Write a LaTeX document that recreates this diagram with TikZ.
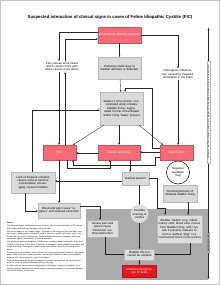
\documentclass[tikz,border=0pt]{standalone}
\usepackage{fontspec}
\setmainfont{Liberation Sans}
\usetikzlibrary{arrows.meta}
\definecolor{ficred}{HTML}{F26B77}
\definecolor{emred}{HTML}{E8161F}
\definecolor{boxgray}{HTML}{DADADA}
\definecolor{boxline}{HTML}{B8B8B8}
\definecolor{regiongray}{HTML}{ABABAB}
\definecolor{innergray}{HTML}{DEDEDE}
\begin{document}
\begin{tikzpicture}[x=1pt,y=-1pt,
  every node/.style={font=\fontsize{2.9}{3.4}\selectfont, align=center, inner sep=1pt},
  redbox/.style={fill=ficred, text=white, draw=ficred!80!black, line width=0.2},
  emergbox/.style={fill=emred, text=white, draw=emred!80!black, line width=0.2},
  graybox/.style={fill=boxgray, draw=boxline, line width=0.2},
  innerbox/.style={fill=innergray, draw=boxline, line width=0.2},
  plain/.style={},
  conn/.style={draw=black!85, line width=0.35, -{Stealth[length=2pt,width=1.7pt]}},
  dconn/.style={draw=black!85, line width=0.35, {Stealth[length=2.4pt,width=2pt]}-{Stealth[length=2.4pt,width=2pt]}}
]
\useasboundingbox (0,0) rectangle (220,285);
\fill[white] (0,0) rectangle (220,285);
\draw[gray!45, line width=0.6] (0.4,0.4) rectangle (219.6,284.6);

\node[font=\bfseries\fontsize{4.3}{5}\selectfont] (title) at (110,17) {Suspected interaction of clinical signs in cases of Feline Idiopathic Cystitis (FIC)};

% bottom shaded region
\fill[regiongray] (86,209) rectangle (208,280);

% nodes
\node[redbox, minimum width=43, minimum height=16, text width=41] (env) at (119.5,35) {Environment affecting stressors};
\node[plain, text width=36] (tail) at (62,66.5) {Pain causes more stress which causes more pain which causes more stress};
\node[graybox, minimum width=43, minimum height=22, text width=40] (prot) at (119.5,68) {Protective GAG layer to bladder deficient or defective};
\node[plain, text width=44] (neuro) at (178,74) {Neurogenic inflammation caused by negative stimulation in the brain};
\node[graybox, minimum width=43, minimum height=33, text width=41] (waste) at (121.5,108.5) {Waste in urine (toxins, concentrated urine) irritates bladder lining. Aggravated if urine concentrated and/or lining ``leaky'' present};
\node[redbox, minimum width=33, minimum height=15] (pain) at (59.5,152.5) {Pain};
\node[redbox, minimum width=42, minimum height=15] (spasm) at (119,152.5) {Muscle Spasming};
\node[redbox, minimum width=33, minimum height=15] (infl) at (176.5,152.5) {Inflammation};
\node[circle, draw=black, line width=0.5, minimum size=23, inner sep=0] (loop) at (178,172.5) {Negative\\feedback\\loop};
\node[graybox, minimum width=27, minimum height=13] (ureth) at (135.5,178.5) {Urethral spasm?};
\node[graybox, minimum width=34, minimum height=17, text width=32] (stretch) at (180,193.5) {Stretching/tension of inflamed bladder lining};
\node[graybox, minimum width=44, minimum height=21, text width=42] (lack) at (33,182.5) {Lack of frequent urination causes urine to become concentrated, encouraging crystal formation};
\node[graybox, minimum width=42, minimum height=15, text width=40] (blood) at (59,210.5) {Blood and pain cause ``urgency'' and reduced urine flow};
\node[circle, fill=innergray, draw=boxline, line width=0.2, minimum size=18, inner sep=0] (scar) at (139.5,214) {Possible\\scarring of\\urethra};
\node[innerbox, minimum width=45, minimum height=28, text width=43] (plug) at (179.5,229) {Bladder ``debris'' (e.g. inflammatory cells, blood cells, mucus from bladder lining, with crystals if present) coalesce to form a urethral ``plug'' or a ``mechanical'' block in the urethra};
\node[innerbox, minimum width=31, minimum height=17, text width=29] (sev) at (102.5,228.5) {Severe pain and spasm cause ``functional'' urethral obstruction};
\node[innerbox, minimum width=30, minimum height=11, text width=28] (blocked) at (139.5,254.5) {Bladder fills but cannot be emptied};
\node[emergbox, minimum width=34, minimum height=12, text width=32] (emerg) at (139.5,271) {Medical emergency:\\risk of death};

% connectors
\draw[conn] (env) -- (prot);
\draw[conn] (env.east) -| (neuro.north);
\draw[conn] (env.west |- 0,32) -| (tail.north -| 59,0);
\draw[conn] (tail.north -| 65,0) |- (env.west |- 0,39);
\draw[conn] (prot) -- (waste);
\draw[conn] (waste.south -| 104,0) -- (pain.north -| 73,0);
\draw[conn] (waste.south -| 119,0) -- (spasm.north -| 119,0);
\draw[conn] (waste.south -| 139,0) -- (infl.north -| 163,0);
\draw[conn] (neuro.south -| 178,0) -- (infl.north -| 178,0);
\draw[conn] (infl.west |- 0,148) -- (152,148) |- (125,88.5) -- (waste.north -| 125,0);
\draw[conn] (spasm.west |- 0,153) -- (pain.east |- 0,153);
\draw[conn] (infl.west |- 0,157) -- (155,157) |- (73,165) -- (pain.south -| 73,0);
\draw[conn] (pain.south -| 67,0) |- (110,168.5) -- (spasm.south -| 110,0);
\draw[conn] (infl.west |- 0,152) -- (spasm.east |- 0,152);
\draw[conn] (spasm.south -| 130,0) -- (ureth.north -| 130,0);
\draw[conn] (ureth.west |- 0,181) -- (lack.east |- 0,181);
\draw[conn] (lack.north -| 32,0) |- (waste.west |- 0,110);
\draw[conn] (tail.south -| 59,0) -- (pain.north -| 59,0);
\draw[conn] (pain.north -| 65,0) -- (tail.south -| 65,0);
\draw[conn] (pain.south -| 59,0) -- (blood.north -| 59,0);
\draw[conn] (lack.south -| 25,0) |- (blood.west |- 0,211);
\draw[conn] (blood.east |- 0,206) -| (sev.north -| 100,0);
\draw[conn] (stretch.south -| 188,0) -- (plug.north -| 188,0);
\draw[conn] (ureth.east |- 0,178) -| (157,208) -| (plug.north -| 165,0);
\draw[conn] (ureth.south -| 139.5,0) -- (scar.north -| 139.5,0);
\draw[conn] (scar) -- (blocked);
\draw[conn] (plug.south -| 190,0) |- (blocked.east |- 0,254.5);
\draw[conn] (sev.south -| 105,0) |- (blocked.west |- 0,254.5);
\draw[conn] (blocked) -- (emerg);

% right-hand timeline arrow
\coordinate (ttop) at (208.5,28);
\coordinate (tbot) at (208.5,279);
\draw[dconn] (ttop) -- (tbot);
\node[rotate=90, fill=white, draw=boxline, line width=0.2, text width=100, font=\fontsize{2.3}{2.7}\selectfont, inner sep=0.6] (tlab1) at (208.5,112) {Stressors, via the nervous system, can trigger FIC episodes and can prolong their duration};
\node[rotate=90, fill=regiongray, text width=20, font=\fontsize{2.3}{2.7}\selectfont, inner sep=0.4] (tlab2) at (208.5,243) {Mainly male cats};

% notes
\node[anchor=north west, align=left, text width=77, font=\fontsize{1.95}{2.5}\selectfont, inner sep=0] (notes) at (7,222) {\textbf{Notes:}\\[0.6pt]
The diagram shows suspected interactions only; the exact mechanisms of FIC are not fully understood and vary between individual cats.\\[0.5pt]
Stress is thought to be a major trigger. Changes in the home such as new pets, moving house, building work, changes of routine, visitors or conflict with other cats in the household can all act as stressors. Stress activates the nervous system, which can cause neurogenic inflammation of the bladder wall.\\[0.5pt]
The protective glycosaminoglycan (GAG) layer normally shields the bladder lining from irritants in the urine. If this layer is deficient or damaged, waste products can reach and irritate the lining, causing pain, inflammation and spasm, which in turn cause further stress.\\[0.5pt]
Concentrated urine makes irritation worse and encourages crystal formation. Increasing water intake (wet food, water fountains, several water bowls) is often recommended, together with reducing stress in the environment.\\[0.5pt]
Signs include straining, frequent attempts to urinate, passing small amounts of urine, blood in the urine and urinating outside the litter tray.\\[0.5pt]
In male cats the narrow urethra may become blocked by a plug or by spasm. A cat straining without passing urine needs urgent veterinary attention, as a blocked bladder can be fatal within a short time.};
\end{tikzpicture}
\end{document}
